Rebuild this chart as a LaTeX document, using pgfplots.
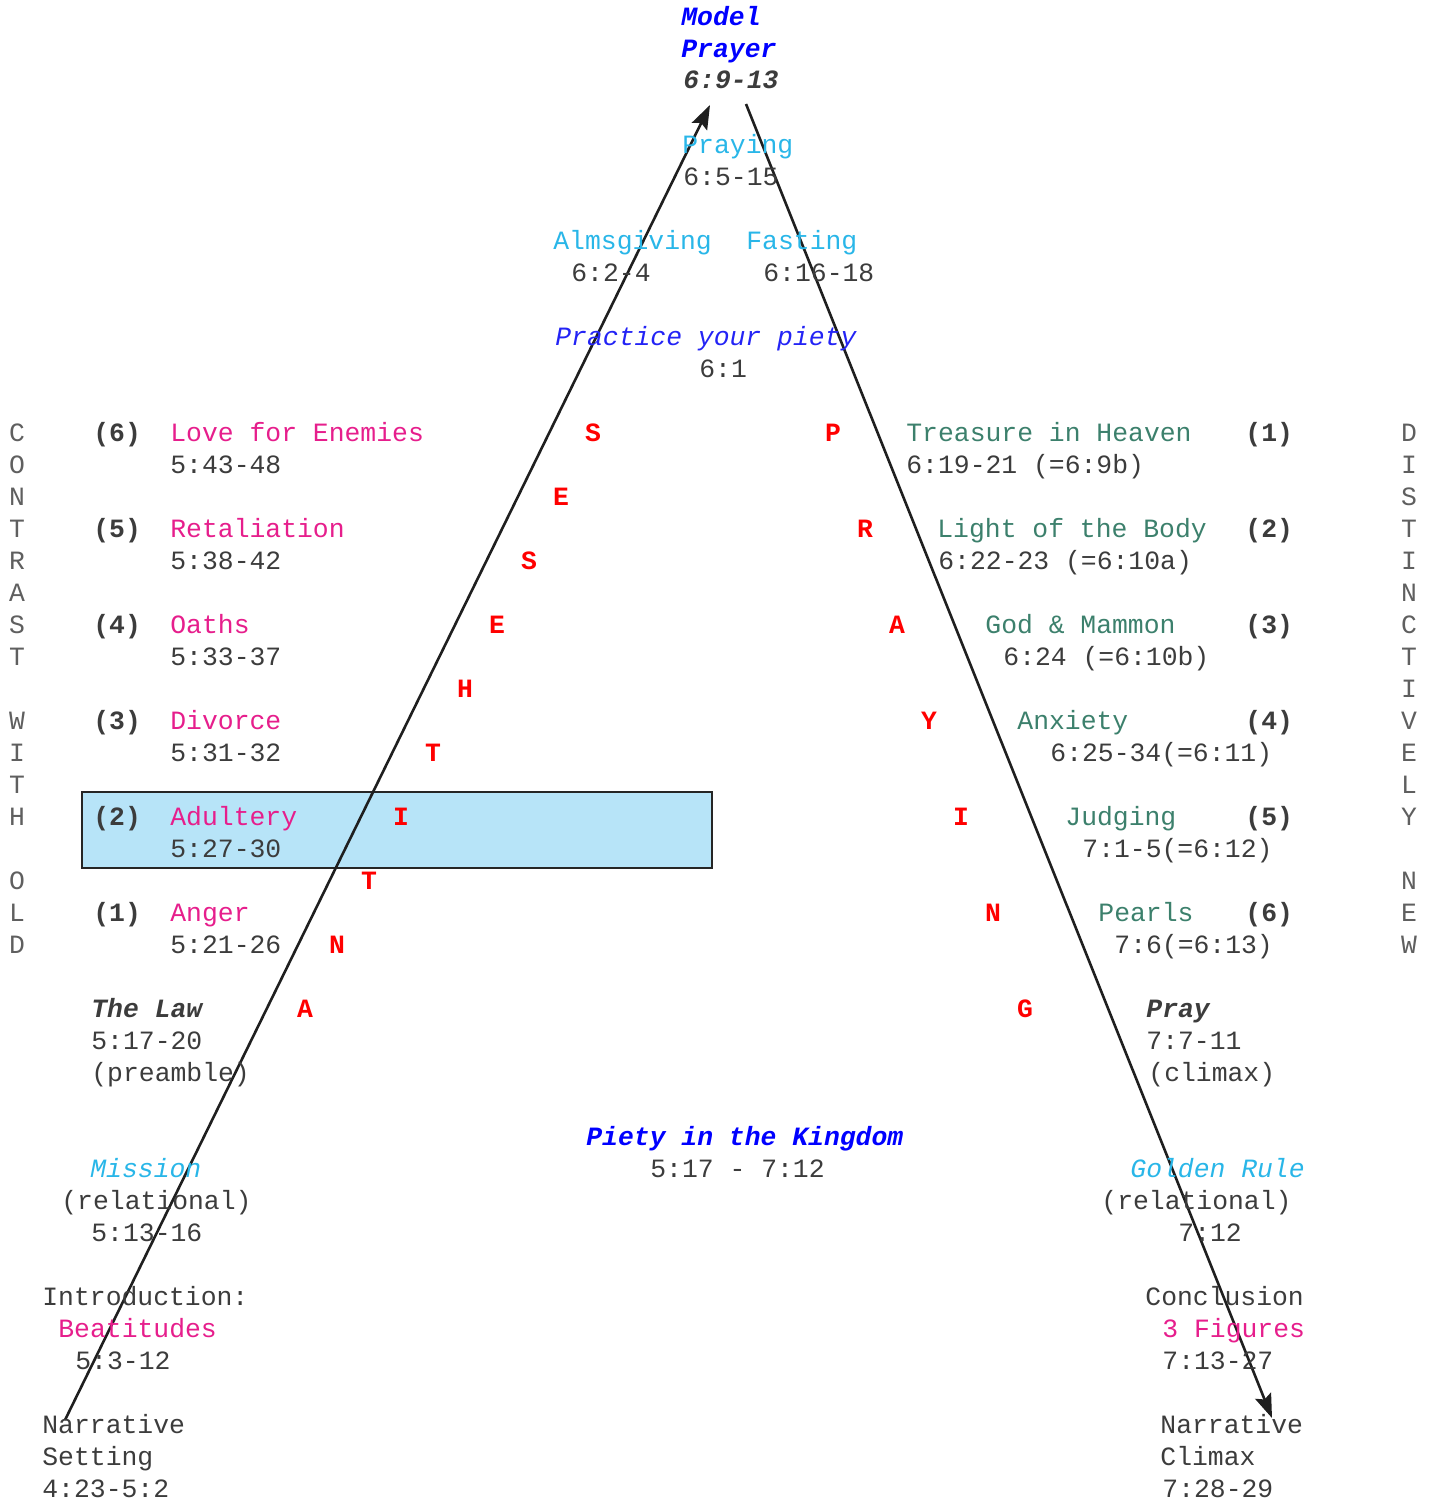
\documentclass[border=0pt]{standalone}
\usepackage{pgfplots}
\pgfplotsset{compat=1.18}
\usepackage{fontspec}
\setmainfont{Liberation Mono}
\usetikzlibrary{arrows.meta}
\definecolor{blueA}{RGB}{0,0,255}
\definecolor{blueB}{RGB}{35,35,245}
\definecolor{sky}{RGB}{41,182,232}
\definecolor{pinkc}{RGB}{230,30,140}
\definecolor{tealc}{RGB}{60,128,108}
\definecolor{txt}{RGB}{60,60,60}
\definecolor{vlet}{RGB}{95,95,95}
\definecolor{redc}{RGB}{255,0,0}
\definecolor{boxc}{RGB}{183,228,248}
\newcommand\tx[4][txt]{\node[anchor=base west,inner sep=0pt,yshift=-4.1pt,text=#1,font=\fontsize{13.2pt}{16pt}\selectfont] at (axis cs:#2,#3) {#4};}
\newcommand\rl[3]{\node[anchor=base,inner sep=0pt,yshift=-4.1pt,text=redc,font=\fontsize{13.2pt}{16pt}\selectfont\bfseries] at (axis cs:#1,#2) {#3};}
\newcommand\vl[3]{\node[anchor=base,inner sep=0pt,yshift=-4.1pt,text=vlet,font=\fontsize{13.2pt}{16pt}\selectfont] at (axis cs:#1,#2) {#3};}
\begin{document}
\begin{tikzpicture}
\begin{axis}[
  scale only axis, width=715.5pt, height=750pt,
  xmin=0, xmax=1431, ymin=0, ymax=1500, y dir=reverse,
  hide axis, clip=false,
]
% highlighted box
\addplot[fill=boxc, draw=black!85, line width=1.25pt] coordinates {(82,792) (712,792) (712,868) (82,868)} -- cycle;
% arrows
\addplot[black!88, line width=1.3pt, -{Stealth[length=12pt,width=8.5pt,inset=2pt]}] coordinates {(65,1420) (710,105)};
\addplot[black!88, line width=1.3pt, -{Stealth[length=12pt,width=8.5pt,inset=2pt]}] coordinates {(746,104) (1272,1418)};
% top
\tx[blueA]{681}{17}{\bfseries\itshape Model}
\tx[blueA]{681}{49}{\bfseries\itshape Prayer}
\tx[txt]{683}{80}{\bfseries\itshape 6:9-13}
\tx[sky]{682}{145}{Praying}
\tx{683}{177}{6:5-15}
\tx[sky]{553}{241}{Almsgiving}
\tx{571}{273}{6:2-4}
\tx[sky]{746}{241}{Fasting}
\tx{763}{273}{6:16-18}
\tx[blueB]{555}{337}{\itshape Practice your piety}
\tx{699}{369}{6:1}
% left column
\tx{93}{433}{\bfseries (6)}
\tx[pinkc]{170}{433}{Love for Enemies}
\tx{170}{465}{5:43-48}
\tx{93}{529}{\bfseries (5)}
\tx[pinkc]{170}{529}{Retaliation}
\tx{170}{561}{5:38-42}
\tx{93}{625}{\bfseries (4)}
\tx[pinkc]{170}{625}{Oaths}
\tx{170}{657}{5:33-37}
\tx{93}{721}{\bfseries (3)}
\tx[pinkc]{170}{721}{Divorce}
\tx{170}{753}{5:31-32}
\tx{93}{817}{\bfseries (2)}
\tx[pinkc]{170}{817}{Adultery}
\tx{170}{849}{5:27-30}
\tx{93}{913}{\bfseries (1)}
\tx[pinkc]{170}{913}{Anger}
\tx{170}{945}{5:21-26}
\tx{91}{1009}{\bfseries\itshape The Law}
\tx{91}{1041}{5:17-20}
\tx{91}{1073}{(preamble)}
\tx[sky]{90}{1169}{\itshape Mission}
\tx{61}{1201}{(relational)}
\tx{91}{1233}{5:13-16}
\tx{42}{1297}{Introduction:}
\tx[pinkc]{58}{1329}{Beatitudes}
\tx{75}{1361}{5:3-12}
\tx{42}{1425}{Narrative}
\tx{42}{1457}{Setting}
\tx{42}{1489}{4:23-5:2}
% right column
\tx[tealc]{906}{433}{Treasure in Heaven}
\tx{906}{465}{6:19-21 (=6:9b)}
\tx{1245}{433}{\bfseries (1)}
\tx[tealc]{937}{529}{Light of the Body}
\tx{938}{561}{6:22-23 (=6:10a)}
\tx{1245}{529}{\bfseries (2)}
\tx[tealc]{985}{625}{God \& Mammon}
\tx{1003}{657}{6:24 (=6:10b)}
\tx{1245}{625}{\bfseries (3)}
\tx[tealc]{1017}{721}{Anxiety}
\tx{1050}{753}{6:25-34(=6:11)}
\tx{1245}{721}{\bfseries (4)}
\tx[tealc]{1065}{817}{Judging}
\tx{1082}{849}{7:1-5(=6:12)}
\tx{1245}{817}{\bfseries (5)}
\tx[tealc]{1098}{913}{Pearls}
\tx{1114}{945}{7:6(=6:13)}
\tx{1245}{913}{\bfseries (6)}
\tx{1146}{1009}{\bfseries\itshape Pray}
\tx{1146}{1041}{7:7-11}
\tx{1148}{1073}{(climax)}
\tx[sky]{1130}{1169}{\itshape Golden Rule}
\tx{1101}{1201}{(relational)}
\tx{1178}{1233}{7:12}
\tx{1145}{1297}{Conclusion}
\tx[pinkc]{1162}{1329}{3 Figures}
\tx{1162}{1361}{7:13-27}
\tx{1160}{1425}{Narrative}
\tx{1160}{1457}{Climax}
\tx{1162}{1489}{7:28-29}
% center
\tx[blueA]{586}{1137}{\bfseries\itshape Piety in the Kingdom}
\tx{650}{1169}{5:17 - 7:12}
% red letters
\rl{593}{433}{S}\rl{561}{497}{E}\rl{529}{561}{S}\rl{497}{625}{E}\rl{465}{689}{H}
\rl{433}{753}{T}\rl{401}{817}{I}\rl{369}{881}{T}\rl{337}{945}{N}\rl{305}{1009}{A}
\rl{833}{433}{P}\rl{865}{529}{R}\rl{897}{625}{A}\rl{929}{721}{Y}\rl{961}{817}{I}
\rl{993}{913}{N}\rl{1025}{1009}{G}
% vertical words
\vl{17}{433}{C}\vl{17}{465}{O}\vl{17}{497}{N}\vl{17}{529}{T}\vl{17}{561}{R}\vl{17}{593}{A}
\vl{17}{625}{S}\vl{17}{657}{T}\vl{17}{721}{W}\vl{17}{753}{I}\vl{17}{785}{T}\vl{17}{817}{H}
\vl{17}{881}{O}\vl{17}{913}{L}\vl{17}{945}{D}
\vl{1409}{433}{D}\vl{1409}{465}{I}\vl{1409}{497}{S}\vl{1409}{529}{T}\vl{1409}{561}{I}
\vl{1409}{593}{N}\vl{1409}{625}{C}\vl{1409}{657}{T}\vl{1409}{689}{I}\vl{1409}{721}{V}
\vl{1409}{753}{E}\vl{1409}{785}{L}\vl{1409}{817}{Y}\vl{1409}{881}{N}\vl{1409}{913}{E}
\vl{1409}{945}{W}
\end{axis}
\pgfresetboundingbox
\path[use as bounding box] (current axis.south west) rectangle (current axis.north east);
\end{tikzpicture}
\end{document}
